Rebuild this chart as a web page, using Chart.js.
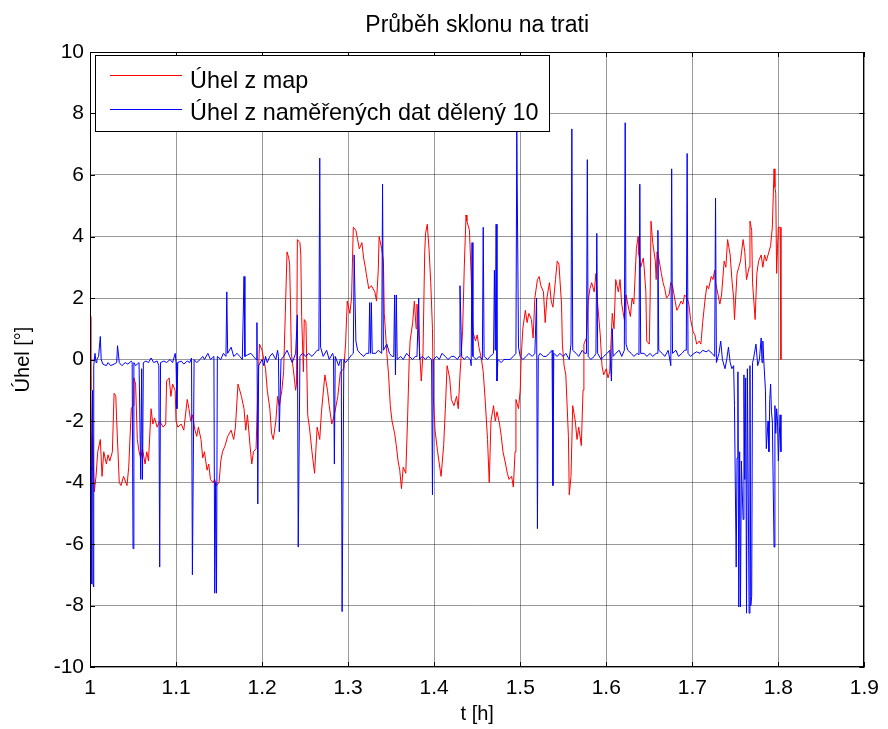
<!DOCTYPE html>
<html>
<head>
<meta charset="utf-8">
<script src="https://cdn.jsdelivr.net/npm/chart.js@4/dist/chart.umd.min.js"></script>
<style>
  html, body { margin: 0; padding: 0; background: #fff; }
  canvas { display: block; }
</style>
</head>
<body>
<canvas id="c" width="888" height="729"></canvas>
<script>
// ---- data ----
const chartTitle = "Průběh sklonu na trati";
const xTitle = "t [h]";
const yTitle = "Úhel [°]";
const seriesNames = ["Úhel z map", "Úhel z naměřených dat dělený 10"];
const seriesColors = ["#ff0000", "#0000ff"];

const redT = [1.000,1.001,1.002,1.003,1.005,1.007,1.009,1.012,1.014,1.016,1.019,1.021,1.023,1.026,1.028,1.030,1.031,1.034,1.036,1.039,1.043,1.045,1.048,1.050,1.051,1.053,1.055,1.057,1.059,1.061,1.064,1.066,1.068,1.071,1.073,1.075,1.078,1.081,1.085,1.088,1.089,1.092,1.094,1.096,1.099,1.100,1.102,1.106,1.109,1.113,1.115,1.117,1.119,1.122,1.124,1.126,1.129,1.131,1.133,1.136,1.138,1.140,1.143,1.145,1.147,1.150,1.152,1.154,1.157,1.160,1.164,1.167,1.169,1.172,1.174,1.176,1.179,1.181,1.183,1.186,1.188,1.190,1.193,1.195,1.197,1.200,1.202,1.204,1.206,1.209,1.211,1.213,1.216,1.218,1.220,1.223,1.225,1.227,1.229,1.231,1.232,1.233,1.234,1.237,1.239,1.240,1.241,1.244,1.245,1.246,1.248,1.249,1.251,1.253,1.255,1.258,1.261,1.264,1.267,1.269,1.273,1.276,1.278,1.281,1.284,1.288,1.291,1.295,1.297,1.299,1.302,1.304,1.306,1.309,1.311,1.313,1.316,1.318,1.320,1.321,1.324,1.327,1.331,1.333,1.335,1.336,1.339,1.341,1.342,1.345,1.347,1.349,1.351,1.354,1.356,1.358,1.360,1.362,1.364,1.367,1.369,1.371,1.372,1.375,1.377,1.379,1.380,1.383,1.385,1.387,1.389,1.390,1.392,1.394,1.396,1.398,1.399,1.401,1.404,1.406,1.408,1.411,1.413,1.415,1.418,1.420,1.423,1.426,1.428,1.430,1.433,1.435,1.437,1.438,1.441,1.443,1.445,1.448,1.450,1.452,1.455,1.457,1.459,1.462,1.464,1.466,1.469,1.471,1.473,1.476,1.478,1.480,1.483,1.485,1.487,1.490,1.492,1.494,1.495,1.498,1.500,1.501,1.503,1.506,1.508,1.510,1.513,1.515,1.517,1.520,1.522,1.524,1.527,1.529,1.531,1.534,1.536,1.538,1.541,1.543,1.545,1.548,1.549,1.551,1.553,1.556,1.557,1.559,1.561,1.564,1.566,1.568,1.571,1.573,1.574,1.577,1.579,1.581,1.583,1.586,1.588,1.590,1.593,1.595,1.597,1.600,1.602,1.604,1.607,1.609,1.611,1.614,1.616,1.618,1.621,1.623,1.625,1.628,1.630,1.632,1.635,1.637,1.638,1.640,1.643,1.644,1.646,1.647,1.650,1.651,1.652,1.654,1.657,1.658,1.659,1.661,1.664,1.666,1.668,1.670,1.673,1.675,1.677,1.680,1.682,1.684,1.687,1.689,1.691,1.694,1.696,1.698,1.701,1.703,1.705,1.708,1.710,1.712,1.715,1.717,1.719,1.722,1.724,1.726,1.727,1.730,1.732,1.734,1.737,1.739,1.741,1.744,1.746,1.748,1.749,1.752,1.754,1.756,1.759,1.761,1.763,1.766,1.767,1.769,1.770,1.773,1.775,1.777,1.780,1.782,1.784,1.786,1.789,1.791,1.793,1.795,1.796,1.797,1.798,1.799,1.800,1.802,1.803];
const redV = [1.4,-1.0,-3.6,-2.5,-4.3,-3.8,-3.0,-2.6,-3.8,-3.0,-3.4,-3.1,-3.3,-3.0,-1.1,-1.2,-2.0,-4.0,-4.1,-3.8,-4.1,-3.5,-1.6,-1.5,-0.6,-0.8,-2.6,-3.0,-3.2,-2.9,-3.4,-3.0,-3.3,-1.6,-2.1,-1.9,-2.2,-2.0,-2.2,-2.1,-0.7,-0.6,-1.2,-0.8,-1.0,-2.0,-2.2,-2.1,-2.3,-1.3,-1.6,-2.0,-1.8,-2.3,-2.5,-2.2,-2.6,-3.2,-3.0,-3.6,-3.4,-3.9,-4.0,-3.9,-4.1,-4.0,-3.3,-3.0,-2.8,-2.5,-2.3,-2.6,-2.2,-0.8,-1.0,-1.2,-1.6,-2.3,-1.8,-2.8,-3.4,-3.0,-2.9,-1.0,0.5,0.3,0.0,-0.3,-1.0,-1.6,-2.4,-2.6,-2.0,-1.2,-1.5,-1.0,-0.4,1.5,3.5,3.3,3.1,1.8,0.2,-0.5,-1.0,-0.8,3.9,3.8,3.4,1.4,-0.4,1.3,1.2,-1.8,-2.2,-3.0,-3.7,-2.2,-2.6,-1.7,-0.5,-1.0,-1.5,-2.1,-1.8,-1.2,-0.4,-0.3,0.5,1.9,1.5,2.0,4.3,4.2,3.9,3.6,3.8,3.3,3.0,2.8,2.3,2.4,2.2,1.9,2.9,4.0,3.6,3.2,1.5,0.2,-0.5,-1.5,-2.0,-2.4,-2.8,-3.3,-3.6,-4.2,-3.5,-3.7,-2.0,0.0,0.6,1.2,1.9,1.0,1.8,0.3,-0.7,0.2,3.5,4.1,4.4,3.6,2.5,1.0,-1.2,-2.3,-3.0,-3.4,-3.8,-2.8,-1.6,-0.2,-0.6,-1.3,-1.5,-1.2,-1.6,-0.5,0.9,3.0,4.7,4.5,4.2,2.7,0.9,0.6,0.8,0.4,0.0,-0.4,-1.2,-2.6,-4.0,-2.0,-1.5,-2.0,-1.7,-2.1,-2.5,-3.0,-3.4,-3.7,-3.9,-3.8,-4.15,-3.0,-1.3,-1.6,-1.0,0.0,1.0,1.6,1.2,1.5,1.3,0.7,2.0,2.6,2.7,2.4,2.2,1.2,2.0,2.5,1.9,1.7,2.6,3.2,3.1,1.8,0.5,-0.2,-0.5,-2.5,-4.4,-3.8,-1.5,-2.0,-2.6,-2.2,-2.8,-1.0,0.5,0.7,1.9,2.3,2.5,2.2,2.8,1.8,0.8,-0.2,-0.5,-0.3,-0.6,-0.4,1.5,1.0,2.6,2.2,2.6,1.8,1.3,2.1,1.8,1.4,2.0,1.8,3.6,4.0,3.4,3.0,3.3,3.0,2.2,0.6,0.5,2.0,4.5,3.8,3.2,2.6,3.5,3.3,2.8,2.5,2.3,2.0,2.1,2.5,2.4,1.9,1.6,1.7,1.9,1.8,2.1,2.0,1.8,1.3,0.9,0.8,0.5,0.6,0.5,1.2,2.0,2.4,2.3,2.7,2.6,2.9,2.5,2.1,1.8,2.1,3.2,3.0,3.9,3.4,2.6,2.0,1.3,2.8,3.0,3.2,3.9,3.5,2.6,3.0,4.5,4.2,2.5,1.3,2.8,3.2,3.4,3.0,3.4,3.2,3.5,3.7,4.3,6.2,5.6,5.4,2.8,3.6,4.3,4.3,0.0];

const blueT = [1.0000,1.0006,1.0012,1.0017,1.0023,1.0029,1.0035,1.0041,1.0046,1.0058,1.007,1.008,1.010,1.012,1.013,1.015,1.019,1.021,1.024,1.028,1.031,1.032,1.034,1.037,1.041,1.044,1.048,1.049,1.050,1.051,1.053,1.057,1.059,1.060,1.061,1.062,1.065,1.068,1.071,1.074,1.078,1.080,1.081,1.082,1.086,1.089,1.093,1.096,1.099,1.100,1.101,1.102,1.106,1.109,1.113,1.116,1.118,1.119,1.121,1.124,1.128,1.131,1.133,1.137,1.140,1.144,1.145,1.146,1.147,1.148,1.152,1.155,1.158,1.159,1.160,1.164,1.167,1.171,1.174,1.177,1.179,1.180,1.183,1.187,1.190,1.193,1.194,1.195,1.196,1.200,1.202,1.204,1.206,1.209,1.212,1.216,1.218,1.219,1.220,1.222,1.225,1.229,1.232,1.235,1.239,1.241,1.242,1.244,1.247,1.251,1.254,1.258,1.261,1.264,1.266,1.267,1.268,1.271,1.275,1.278,1.282,1.283,1.284,1.285,1.289,1.291,1.292,1.293,1.295,1.297,1.300,1.304,1.306,1.307,1.309,1.311,1.314,1.318,1.321,1.324,1.325,1.326,1.327,1.328,1.332,1.335,1.339,1.340,1.341,1.345,1.348,1.351,1.353,1.354,1.355,1.356,1.357,1.361,1.364,1.368,1.371,1.375,1.378,1.380,1.382,1.383,1.386,1.390,1.393,1.397,1.398,1.399,1.403,1.406,1.409,1.413,1.416,1.420,1.423,1.427,1.429,1.430,1.432,1.435,1.438,1.442,1.443,1.444,1.445,1.449,1.452,1.456,1.457,1.458,1.462,1.465,1.469,1.470,1.471,1.472,1.473,1.474,1.478,1.481,1.485,1.488,1.492,1.495,1.496,1.498,1.500,1.503,1.507,1.510,1.514,1.517,1.519,1.520,1.521,1.523,1.527,1.530,1.534,1.537,1.538,1.539,1.543,1.546,1.550,1.553,1.557,1.559,1.560,1.561,1.565,1.568,1.572,1.575,1.577,1.578,1.579,1.582,1.586,1.588,1.589,1.590,1.594,1.597,1.601,1.604,1.606,1.607,1.608,1.611,1.615,1.618,1.621,1.622,1.623,1.625,1.629,1.632,1.636,1.638,1.639,1.640,1.644,1.647,1.651,1.654,1.658,1.659,1.660,1.661,1.665,1.668,1.672,1.675,1.676,1.677,1.681,1.684,1.688,1.691,1.693,1.694,1.695,1.698,1.702,1.705,1.709,1.712,1.716,1.719,1.723,1.726,1.727,1.728,1.731,1.733,1.735,1.738,1.740,1.742,1.744,1.746,1.748,1.749,1.751,1.752,1.753,1.754,1.755,1.756,1.757,1.759,1.760,1.761,1.762,1.763,1.764,1.766,1.767,1.768,1.769,1.770,1.771,1.774,1.776,1.778,1.780,1.781,1.782,1.783,1.785,1.786,1.788,1.789,1.790,1.791,1.792,1.793,1.795,1.796,1.797,1.798,1.799,1.800,1.802,1.803];
const blueV = [0,-7.4,-3.5,-7.3,-3.6,-1.0,-7.3,-7.4,-0.2,0.2,-0.1,0.0,0.1,0.75,0.0,-0.15,-0.2,-0.1,-0.2,-0.15,-0.1,0.45,-0.1,-0.2,-0.1,-0.15,-0.05,-0.1,-6.15,-0.1,-0.2,-0.1,-3.9,-0.3,-3.9,-0.1,-0.05,-0.1,0.05,-0.1,-0.05,-0.2,-6.75,-0.1,-0.05,-0.1,0.0,-0.1,0.2,-0.1,-1.6,-0.1,-0.05,-0.15,-0.05,-0.1,0.05,-7.0,0.0,-0.1,0.0,0.1,0.0,0.2,0.0,0.1,-7.6,-4.0,-7.6,0.1,0.0,0.2,0.1,2.2,0.2,0.4,0.1,0.2,0.1,0.0,2.7,0.1,0.15,0.2,0.1,0.0,1.2,-4.7,-0.2,0.0,-0.2,0.1,-0.1,0.1,0.2,0.0,0.3,0.1,-2.35,0.0,0.1,0.3,0.1,-0.1,0.2,1.45,-6.1,0.1,0.2,0.1,0.2,0.1,0.2,0.3,0.3,6.55,0.4,0.1,0.3,0.0,0.2,0.1,-3.4,0.1,-0.2,0.0,0.0,-8.2,0.0,-0.1,0.0,0.15,0.2,3.4,0.6,0.3,0.2,0.1,0.2,0.2,1.85,0.2,1.85,0.2,0.2,0.3,0.2,5.7,0.3,0.5,0.2,0.1,0.1,2.1,-0.5,2.1,0.0,0.1,0.0,0.2,0.1,0.0,0.1,0.1,2.0,0.0,0.1,0.0,0.1,0.0,-4.4,0.0,0.1,0.0,0.2,0.1,0.0,0.1,0.1,0.0,0.1,2.4,0.1,0.0,0.1,0.0,-0.2,3.8,0.1,0.0,0.1,0.0,4.3,0.1,0.0,0.1,0.2,2.9,0.3,4.4,-0.7,0.0,-0.1,0.0,0.0,0.0,0.1,0.2,7.45,0.4,0.1,0.0,0.1,0.2,0.1,0.2,2.0,-5.5,0.1,0.2,0.1,0.1,0.2,0.3,-4.1,0.2,0.1,0.2,0.1,0.2,0.0,0.5,7.5,0.3,0.2,0.1,0.3,0.2,0.2,6.5,0.1,0.0,0.1,0.2,4.1,0.2,0.0,0.1,0.2,0.3,-0.7,1.0,0.1,0.2,0.3,0.1,0.3,7.7,0.5,0.3,0.2,0.1,0.2,0.15,5.7,0.2,0.2,0.1,0.2,0.1,0.2,0.2,4.2,0.3,0.2,0.1,0.3,-0.2,6.2,0.2,0.3,0.1,0.2,0.3,0.3,6.7,0.2,0.1,0.2,0.25,0.2,0.3,0.25,0.3,0.2,0.1,5.25,-0.1,0.2,0.6,0.0,-0.3,0.0,0.4,-0.1,-0.3,-0.2,-1.5,-6.75,-3.2,-0.4,-8.05,-3.0,-8.05,-3.3,-5.2,-0.5,-3.9,-0.6,-8.25,-0.3,-8.25,-0.2,-8.0,-7.7,-0.1,0.0,0.5,-0.2,0.0,0.7,-0.1,0.6,0.0,-1.0,-2.9,-2.0,-3.0,-1.3,-0.8,-1.7,-2.0,-6.1,-1.5,-2.4,-1.6,-2.0,-3.3,-1.8,-3.0];

const xMin = 1, xMax = 1.9, xStep = 0.1;
const yMin = -10, yMax = 10, yStep = 2;

// ---- build ----
const toPoints = (ts, vs) => ts.map((t, i) => ({ x: t, y: vs[i] }));
const FONT = '"Liberation Sans", Arial, Helvetica, sans-serif';

const matlabFrame = {
  id: 'matlabFrame',
  afterDatasetsDraw(chart) {
    const ctx = chart.ctx, ca = chart.chartArea;
    const xs = chart.scales.x, ys = chart.scales.y;
    ctx.save();
    ctx.strokeStyle = '#000';
    ctx.lineWidth = 1;
    ctx.beginPath();
    xs.ticks.forEach(t => {
      const px = Math.round(xs.getPixelForValue(t.value)) + 0.5;
      ctx.moveTo(px, ca.bottom); ctx.lineTo(px, ca.bottom - 5);
      ctx.moveTo(px, ca.top); ctx.lineTo(px, ca.top + 5);
    });
    ys.ticks.forEach(t => {
      const py = Math.round(ys.getPixelForValue(t.value)) + 0.5;
      ctx.moveTo(ca.left, py); ctx.lineTo(ca.left + 5, py);
      ctx.moveTo(ca.right, py); ctx.lineTo(ca.right - 5, py);
    });
    ctx.stroke();
    ctx.strokeRect(Math.round(ca.left) + 0.5, Math.round(ca.top) + 0.5,
                   Math.round(ca.width) - 1, Math.round(ca.height) - 1);
    ctx.restore();
  },
  afterDraw(chart) {
    const ctx = chart.ctx, ca = chart.chartArea;
    ctx.save();
    ctx.fillStyle = '#000';
    ctx.font = '23px ' + FONT;
    ctx.textAlign = 'center';
    ctx.textBaseline = 'alphabetic';
    ctx.fillText(chartTitle, (ca.left + ca.right) / 2, 32);
    const bx = ca.left + 5, by = ca.top + 3, bw = 454, bh = 76;
    ctx.fillStyle = '#fff';
    ctx.fillRect(bx, by, bw, bh);
    ctx.strokeStyle = '#000';
    ctx.lineWidth = 1;
    ctx.strokeRect(Math.round(bx) + 0.5, Math.round(by) + 0.5, bw, bh);
    ctx.font = '23.4px ' + FONT;
    ctx.textAlign = 'left';
    ctx.textBaseline = 'alphabetic';
    const rows = [
      { label: seriesNames[0], color: seriesColors[0], ly: by + 20, ty: by + 33 },
      { label: seriesNames[1], color: seriesColors[1], ly: by + 54, ty: by + 65 }
    ];
    rows.forEach(r => {
      ctx.strokeStyle = r.color;
      ctx.lineWidth = 1;
      ctx.beginPath();
      ctx.moveTo(bx + 15, Math.round(r.ly) + 0.5);
      ctx.lineTo(bx + 87, Math.round(r.ly) + 0.5);
      ctx.stroke();
      ctx.fillStyle = '#000';
      ctx.fillText(r.label, bx + 95, r.ty);
    });
    ctx.restore();
  }
};

new Chart(document.getElementById('c'), {
  type: 'line',
  data: {
    datasets: [
      {
        label: seriesNames[1],
        data: toPoints(blueT, blueV),
        borderColor: seriesColors[1],
        borderWidth: 1,
        pointRadius: 0,
        tension: 0,
        fill: false,
        order: 0
      },
      {
        label: seriesNames[0],
        data: toPoints(redT, redV),
        borderColor: seriesColors[0],
        borderWidth: 1,
        pointRadius: 0,
        tension: 0,
        fill: false,
        order: 1
      }
    ]
  },
  options: {
    responsive: false,
    animation: false,
    layout: { padding: { top: 52, right: 22, left: 0, bottom: 0 } },
    plugins: { legend: { display: false }, title: { display: false }, tooltip: { enabled: false } },
    scales: {
      x: {
        type: 'linear',
        min: xMin, max: xMax,
        afterFit: s => { s.height = 62; },
        afterBuildTicks: s => {
          const arr = [];
          for (let v = xMin; v <= xMax + 1e-9; v += xStep) arr.push({ value: Math.round(v * 10) / 10 });
          s.ticks = arr;
        },
        grid: { color: 'rgba(0,0,0,0.4)', lineWidth: 1, drawTicks: false },
        border: { display: false },
        ticks: {
          padding: 9,
          color: '#000',
          font: { family: FONT, size: 21 },
          maxRotation: 0,
          autoSkip: false,
          callback: v => String(Math.round(v * 10) / 10)
        },
        title: { display: true, text: xTitle, color: '#000', font: { family: FONT, size: 20 }, padding: { top: 3, bottom: 3 } }
      },
      y: {
        type: 'linear',
        min: yMin, max: yMax,
        afterFit: s => { s.width = 90; },
        grid: { color: 'rgba(0,0,0,0.4)', lineWidth: 1, drawTicks: false },
        border: { display: false },
        ticks: {
          stepSize: yStep,
          padding: 6,
          color: '#000',
          font: { family: FONT, size: 21 },
          autoSkip: false
        },
        title: { display: true, text: yTitle, color: '#000', font: { family: FONT, size: 20 }, padding: { top: 11, bottom: 11 } }
      }
    }
  },
  plugins: [matlabFrame]
});
</script>
</body>
</html>
